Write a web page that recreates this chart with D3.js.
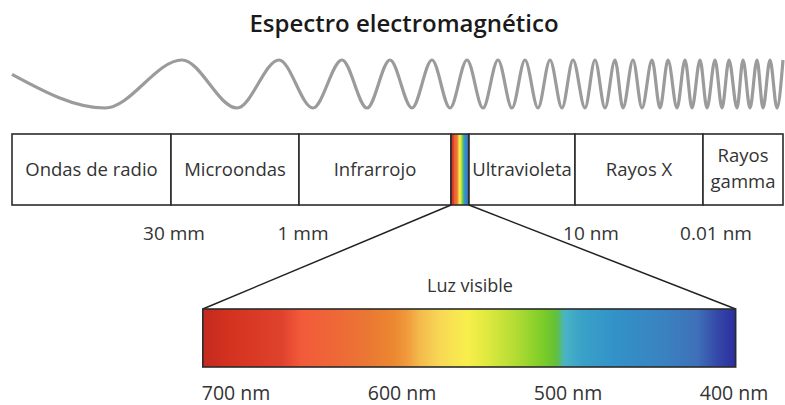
<!DOCTYPE html>
<html>
<head>
<meta charset="utf-8">
<script src="https://cdn.jsdelivr.net/npm/d3@7"></script>
<style>
  body { margin: 0; background: #fff; }
  svg text { font-family: "Open Sans", "Noto Sans", sans-serif; fill: #333; }
</style>
</head>
<body>
<svg id="chart"></svg>
<script>
// data
const title = "Espectro electromagnético";

// bands of the spectrum, edges in strip units (0 = long waves)
const bandNames = ["Ondas de radio", "Microondas", "Infrarrojo", "", "Ultravioleta", "Rayos X", "Rayos\ngamma"];
const bandEdges = [0, 159, 287, 439, 457, 563, 691, 771];

// wavelength marks along the strip
const markLabels = ["30 mm", "1 mm", "10 nm", "0.01 nm"];
const markPos = [162, 291, 579, 704];

// wave drawn above: alternating troughs / crests, strip units
const waveX = [0, 93, 170, 225, 267, 301, 330, 355, 378, 400, 420, 438, 455, 471, 486, 500, 513, 526, 538, 550, 561,
  573, 583, 593, 603, 611, 621, 630, 640, 648, 656, 665, 673, 680, 688, 695, 703, 710, 717, 725, 731, 738, 745, 751, 758, 765, 771];
const waveY = [0.4, -1, 1, -1, 1, -1, 1, -1, 1, -1, 1, -1, 1, -1, 1, -1, 1, -1, 1, -1, 1,
  -1, 1, -1, 1, -1, 1, -1, 1, -1, 1, -1, 1, -1, 1, -1, 1, -1, 1, -1, 1, -1, 1, -1, 1, -1, 1];

// visible light (nm)
const visibleTicks = [700, 600, 500, 400];
const visibleExtent = [720, 399];
const stopNm = [719, 704, 672, 661, 642, 621, 605, 597, 589, 577, 561, 550, 532, 514, 507, 502, 492, 472, 442, 422, 410, 399];
const stopColors = ["#c42a1e", "#d3321f", "#e0432d", "#f25a3a", "#ef6638", "#ea7733", "#ec8830", "#f09a3c", "#f4bb4c",
  "#f8d856", "#f8ee4c", "#e2ea40", "#b4dc34", "#78cc28", "#62c03a", "#48b4c4", "#3aa2c8", "#3292c8", "#3a82c0",
  "#3f70b8", "#3448a8", "#2c2e9e"];

const width = 785;
const height = 405;

const svg = d3
  .select("#chart")
  .attr("width", width)
  .attr("height", height);

// scales
const x = d3.scaleLinear().domain([0, 771]).range([12, 783]);
const yWave = d3.scaleLinear().domain([-1, 1]).range([108, 60]);
const xVis = d3.scaleLinear().domain([700, 400]).range([236, 734]);

const boxTop = 134;
const boxBottom = 205;
const barTop = 309;
const barBottom = 367;

// gradient
const grad = svg
  .append("defs")
  .append("linearGradient")
  .attr("id", "visible-grad")
  .attr("x1", "0").attr("x2", "1").attr("y1", "0").attr("y2", "0");

const offset = d3.scaleLinear().domain(visibleExtent).range([0, 1]);
grad
  .selectAll("stop")
  .data(stopNm)
  .join("stop")
  .attr("offset", (d) => offset(d))
  .attr("stop-color", (d, i) => stopColors[i]);

// title
svg
  .append("text")
  .attr("x", 404)
  .attr("y", 32)
  .attr("text-anchor", "middle")
  .style("font-size", "24px")
  .style("font-weight", "600")
  .style("fill", "#1a1a1a")
  .text(title);

// wave
const wave = d3
  .line()
  .x((d) => x(d))
  .y((d, i) => yWave(waveY[i]))
  .curve(d3.curveMonotoneX);

svg
  .append("path")
  .attr("d", wave(waveX))
  .attr("fill", "none")
  .attr("stroke", "#9b9b9b")
  .attr("stroke-width", 3.2);

// spectrum strip
const bands = bandNames.map((name, i) => ({ name, x0: bandEdges[i], x1: bandEdges[i + 1] }));

svg
  .selectAll(".band")
  .data(bands)
  .join("rect")
  .attr("class", "band")
  .attr("x", (d) => x(d.x0))
  .attr("y", boxTop)
  .attr("width", (d) => x(d.x1) - x(d.x0))
  .attr("height", boxBottom - boxTop)
  .attr("fill", (d) => (d.name === "" ? "url(#visible-grad)" : "#fff"))
  .attr("stroke", "#2b2b2b")
  .attr("stroke-width", 1.6);

svg
  .selectAll(".band-label")
  .data(bands.filter((d) => d.name !== ""))
  .join("text")
  .attr("class", "band-label")
  .attr("text-anchor", "middle")
  .attr("x", (d) => (x(d.x0) + x(d.x1)) / 2)
  .attr("y", (d) => (d.name.includes("\n") ? 162 : 176))
  .style("font-size", "18.5px")
  .selectAll("tspan")
  .data((d) => d.name.split("\n").map((t) => ({ t, cx: (x(d.x0) + x(d.x1)) / 2 })))
  .join("tspan")
  .attr("x", (d) => d.cx)
  .attr("dy", (d, i) => (i === 0 ? 0 : 26))
  .text((d) => d.t);

// wavelength marks
svg
  .selectAll(".mark")
  .data(markLabels)
  .join("text")
  .attr("class", "mark")
  .attr("text-anchor", "middle")
  .attr("x", (d, i) => x(markPos[i]))
  .attr("y", 240)
  .style("font-size", "19px")
  .text((d) => d);

// zoom lines to the visible bar
const visible = bands.find((d) => d.name === "");
svg
  .selectAll(".zoom-line")
  .data([[visible.x0, visibleExtent[0]], [visible.x1, visibleExtent[1]]])
  .join("line")
  .attr("class", "zoom-line")
  .attr("x1", (d) => x(d[0]))
  .attr("y1", boxBottom)
  .attr("x2", (d) => xVis(d[1]))
  .attr("y2", barTop)
  .attr("stroke", "#222")
  .attr("stroke-width", 1.5);

// visible bar
svg
  .append("rect")
  .attr("x", xVis(visibleExtent[0]))
  .attr("y", barTop)
  .attr("width", xVis(visibleExtent[1]) - xVis(visibleExtent[0]))
  .attr("height", barBottom - barTop)
  .attr("fill", "url(#visible-grad)")
  .attr("stroke", "#2b2b2b")
  .attr("stroke-width", 1.6);

svg
  .append("text")
  .attr("x", 470)
  .attr("y", 292)
  .attr("text-anchor", "middle")
  .style("font-size", "18px")
  .text("Luz visible");

svg
  .selectAll(".vis-tick")
  .data(visibleTicks)
  .join("text")
  .attr("class", "vis-tick")
  .attr("text-anchor", "middle")
  .attr("x", (d) => xVis(d))
  .attr("y", 400)
  .style("font-size", "19.5px")
  .text((d) => `${d} nm`);
</script>
</body>
</html>
